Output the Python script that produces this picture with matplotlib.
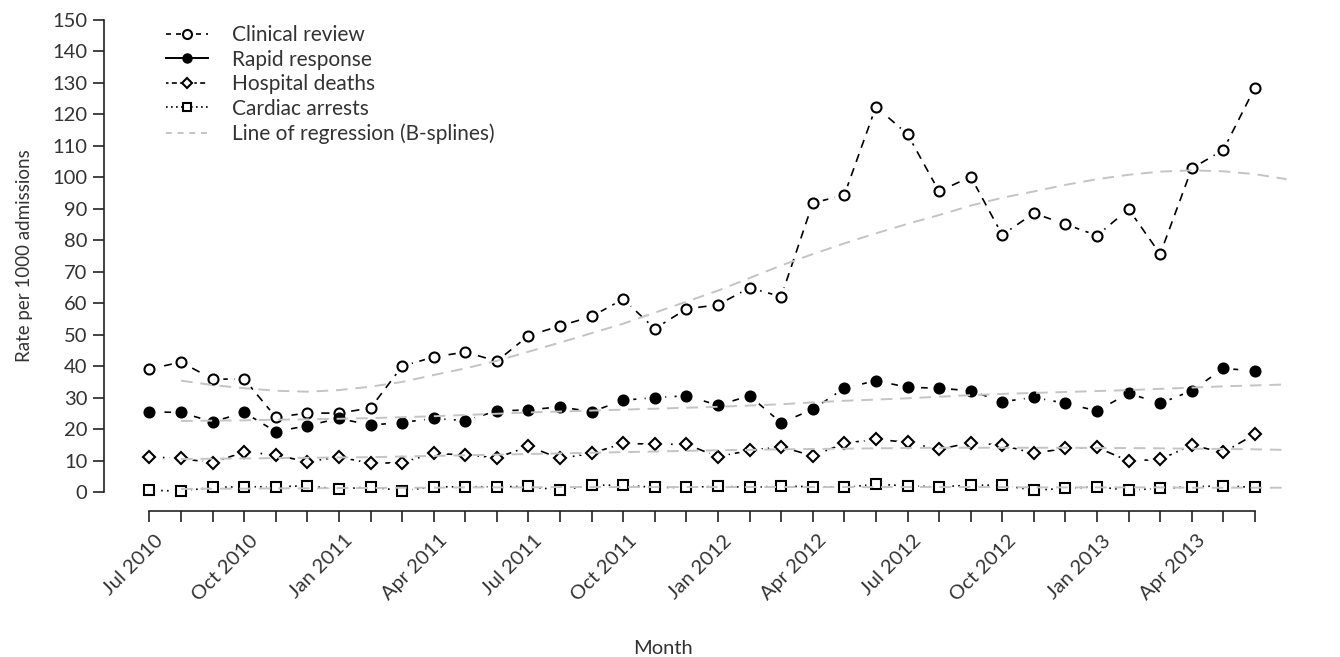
import numpy as np
import matplotlib
matplotlib.use("Agg")
import matplotlib.pyplot as plt
from matplotlib.lines import Line2D
from matplotlib.transforms import ScaledTranslation

plt.rcParams['font.family'] = ['Lato', 'DejaVu Sans']
plt.rcParams['text.color'] = '#333333'
plt.rcParams['axes.labelcolor'] = '#333333'
plt.rcParams['xtick.labelcolor'] = '#333333'
plt.rcParams['ytick.labelcolor'] = '#333333'

# monthly rates, Jul 2010 .. Jun 2013
clinical = [39.1, 41.3, 35.9, 35.9, 23.8, 25.1, 25.1, 26.7, 40.0, 42.9, 44.5, 41.6,
            49.7, 52.8, 55.8, 61.3, 51.9, 58.2, 59.5, 64.9, 62.1, 91.8, 94.4, 122.4,
            113.7, 95.5, 100.2, 81.7, 88.6, 85.1, 81.5, 89.9, 75.6, 102.8, 108.7, 128.5]
rapid = [25.5, 25.3, 22.3, 25.3, 19.2, 21.1, 23.4, 21.3, 22.1, 23.4, 22.7, 25.8,
         26.1, 27.1, 25.5, 29.2, 30.0, 30.6, 27.6, 30.6, 22.0, 26.3, 33.0, 35.4,
         33.3, 33.0, 32.2, 28.7, 30.1, 28.2, 25.8, 31.4, 28.2, 32.2, 39.3, 38.5]
deaths = [11.2, 10.7, 9.3, 12.8, 11.8, 9.6, 11.2, 9.1, 9.4, 12.3, 11.8, 10.9,
          14.5, 10.7, 12.3, 15.5, 15.2, 15.2, 11.2, 13.3, 14.4, 11.5, 15.5, 16.8,
          15.8, 13.6, 15.7, 14.9, 12.3, 13.9, 14.2, 9.9, 10.4, 14.9, 12.6, 18.4]
arrests = [0.6, 0.3, 1.5, 1.7, 1.7, 2.0, 0.9, 1.7, 0.4, 1.7, 1.7, 1.7,
           1.8, 0.6, 2.2, 2.2, 1.5, 1.5, 1.9, 1.5, 1.9, 1.7, 1.5, 2.5,
           2.0, 1.7, 2.2, 2.2, 0.6, 1.2, 1.7, 0.6, 1.2, 1.7, 2.0, 1.5]

# B-spline fits, Aug 2010 .. Jul 2013
clinical_fit = [35.4, 34.0, 33.0, 32.2, 31.9, 32.4, 33.5, 35.0, 37.2, 39.3, 41.7, 44.6,
                47.5, 50.5, 53.5, 57.0, 60.5, 64.0, 68.0, 72.0, 75.6, 79.0, 82.2, 85.2,
                88.0, 91.0, 93.5, 95.5, 97.6, 99.4, 100.8, 101.8, 102.2, 101.9, 101.0, 99.4]
rapid_fit = [22.6, 22.7, 22.8, 23.0, 23.1, 23.3, 23.5, 23.8, 24.1, 24.5, 24.9, 25.3,
             25.6, 25.9, 26.2, 26.5, 26.8, 27.1, 27.5, 27.9, 28.5, 29.0, 29.4, 29.8,
             30.3, 30.8, 31.2, 31.5, 31.8, 32.1, 32.4, 32.8, 33.2, 33.6, 33.9, 34.2]
deaths_fit = [10.5, 10.6, 10.7, 10.8, 10.9, 11.0, 11.1, 11.3, 11.5, 11.7, 11.9, 12.1,
              12.3, 12.5, 12.7, 12.9, 13.1, 13.3, 13.4, 13.6, 13.7, 13.8, 13.9, 14.0,
              14.1, 14.1, 14.1, 14.1, 14.1, 14.0, 14.0, 13.9, 13.8, 13.7, 13.6, 13.4]
arrests_fit = [1.0, 1.1, 1.1, 1.2, 1.2, 1.3, 1.3, 1.4, 1.4, 1.5, 1.5, 1.5,
               1.6, 1.6, 1.6, 1.6, 1.6, 1.6, 1.6, 1.6, 1.6, 1.6, 1.6, 1.6,
               1.6, 1.6, 1.6, 1.5, 1.5, 1.5, 1.5, 1.5, 1.4, 1.4, 1.4, 1.4]

tick_labels = ["Jul 2010", "Oct 2010", "Jan 2011", "Apr 2011", "Jul 2011", "Oct 2011",
               "Jan 2012", "Apr 2012", "Jul 2012", "Oct 2012", "Jan 2013", "Apr 2013"]

x = np.arange(len(clinical))
x_fit = np.arange(1, len(clinical_fit) + 1)

fig = plt.figure(figsize=(13.4, 6.57), dpi=100)
ax = fig.add_axes([104 / 1340, 1 - 511 / 657, (1332 - 104) / 1340, 510 / 657])

series = [
    (clinical, 'o', 'white', (0, (5, 4)), 'Clinical review'),
    (rapid, 'o', 'black', (0, (4, 5)), 'Rapid response'),
    (deaths, 'D', 'white', (0, (5, 3, 1, 3)), 'Hospital deaths'),
    (arrests, 's', 'white', (0, (1, 2.5)), 'Cardiac arrests'),
]
for vals, mk, face, ls, lab in series:
    ax.plot(x, vals, color='black', lw=1.2, linestyle=ls, zorder=2)
    ms = 5.8 if mk == 'D' else 7.2
    # white halo leaves a gap in the line around each point
    ax.plot(x, vals, linestyle='none', marker=mk, ms=ms + 7, mfc='white',
            mec='none', zorder=3)
    ax.plot(x, vals, linestyle='none', marker=mk, ms=ms, mfc=face,
            mec='black', mew=1.5, zorder=4)

for fit in [clinical_fit, rapid_fit, deaths_fit, arrests_fit]:
    ax.plot(x_fit, fit, color='#c4c4c4', lw=1.4, linestyle=(0, (6, 4)), zorder=5)

ax.set_xlim(-1.44, 37.44)
ax.set_ylim(-6, 156)
ax.set_yticks(np.arange(0, 151, 10))
ax.set_xticks(x)
labels = [''] * len(x)
for k, t in enumerate(tick_labels):
    labels[3 * k] = t
ax.set_xticklabels(labels, rotation=45, ha='right', va='top', rotation_mode='anchor')
ax.tick_params(axis='both', labelsize=14.5, length=8, width=1.2, direction='out',
               color='#222222')
ax.tick_params(axis='x', pad=7)
ax.tick_params(axis='y', pad=4)
shift = ScaledTranslation(5 / 100, 0, fig.dpi_scale_trans)
for lab in ax.get_xticklabels():
    lab.set_transform(lab.get_transform() + shift)

for s in ['top', 'right']:
    ax.spines[s].set_visible(False)
ax.spines['left'].set_bounds(0, 150)
ax.spines['bottom'].set_bounds(0, 35)
for s in ['left', 'bottom']:
    ax.spines[s].set_linewidth(1.2)
    ax.spines[s].set_color('#222222')

ax.set_xlabel('Month', fontsize=14.5)
ax.xaxis.set_label_coords((663 - 104) / 1228, -(640 - 511) / 510)
ax.set_ylabel('Rate per 1000 admissions', fontsize=13.5, labelpad=14)

handles = [
    Line2D([], [], color='black', lw=1.2, linestyle=(0, (3, 3)), marker='o',
           ms=6.5, mfc='white', mec='black', mew=1.5),
    Line2D([], [], color='black', lw=1.4, linestyle='-', marker='o',
           ms=6.5, mfc='black', mec='black'),
    Line2D([], [], color='black', lw=1.2, linestyle=(0, (1.5, 2, 3, 2)), marker='D',
           ms=5.5, mfc='white', mec='black', mew=1.5),
    Line2D([], [], color='black', lw=1.2, linestyle=(0, (1, 2)), marker='s',
           ms=6, mfc='white', mec='black', mew=1.5),
    Line2D([], [], color='#c4c4c4', lw=1.4, linestyle=(0, (3, 3))),
]
names = [s[4] for s in series] + ['Line of regression (B-splines)']
leg = ax.legend(handles, names, loc='upper left', bbox_to_anchor=(166 / 1340, 1 - 25 / 657),
                bbox_transform=fig.transFigure, frameon=False, fontsize=15,
                handlelength=2.0, handletextpad=1.15, labelspacing=0.22,
                borderpad=0, borderaxespad=0)

fig.savefig('out.png', dpi=100)
